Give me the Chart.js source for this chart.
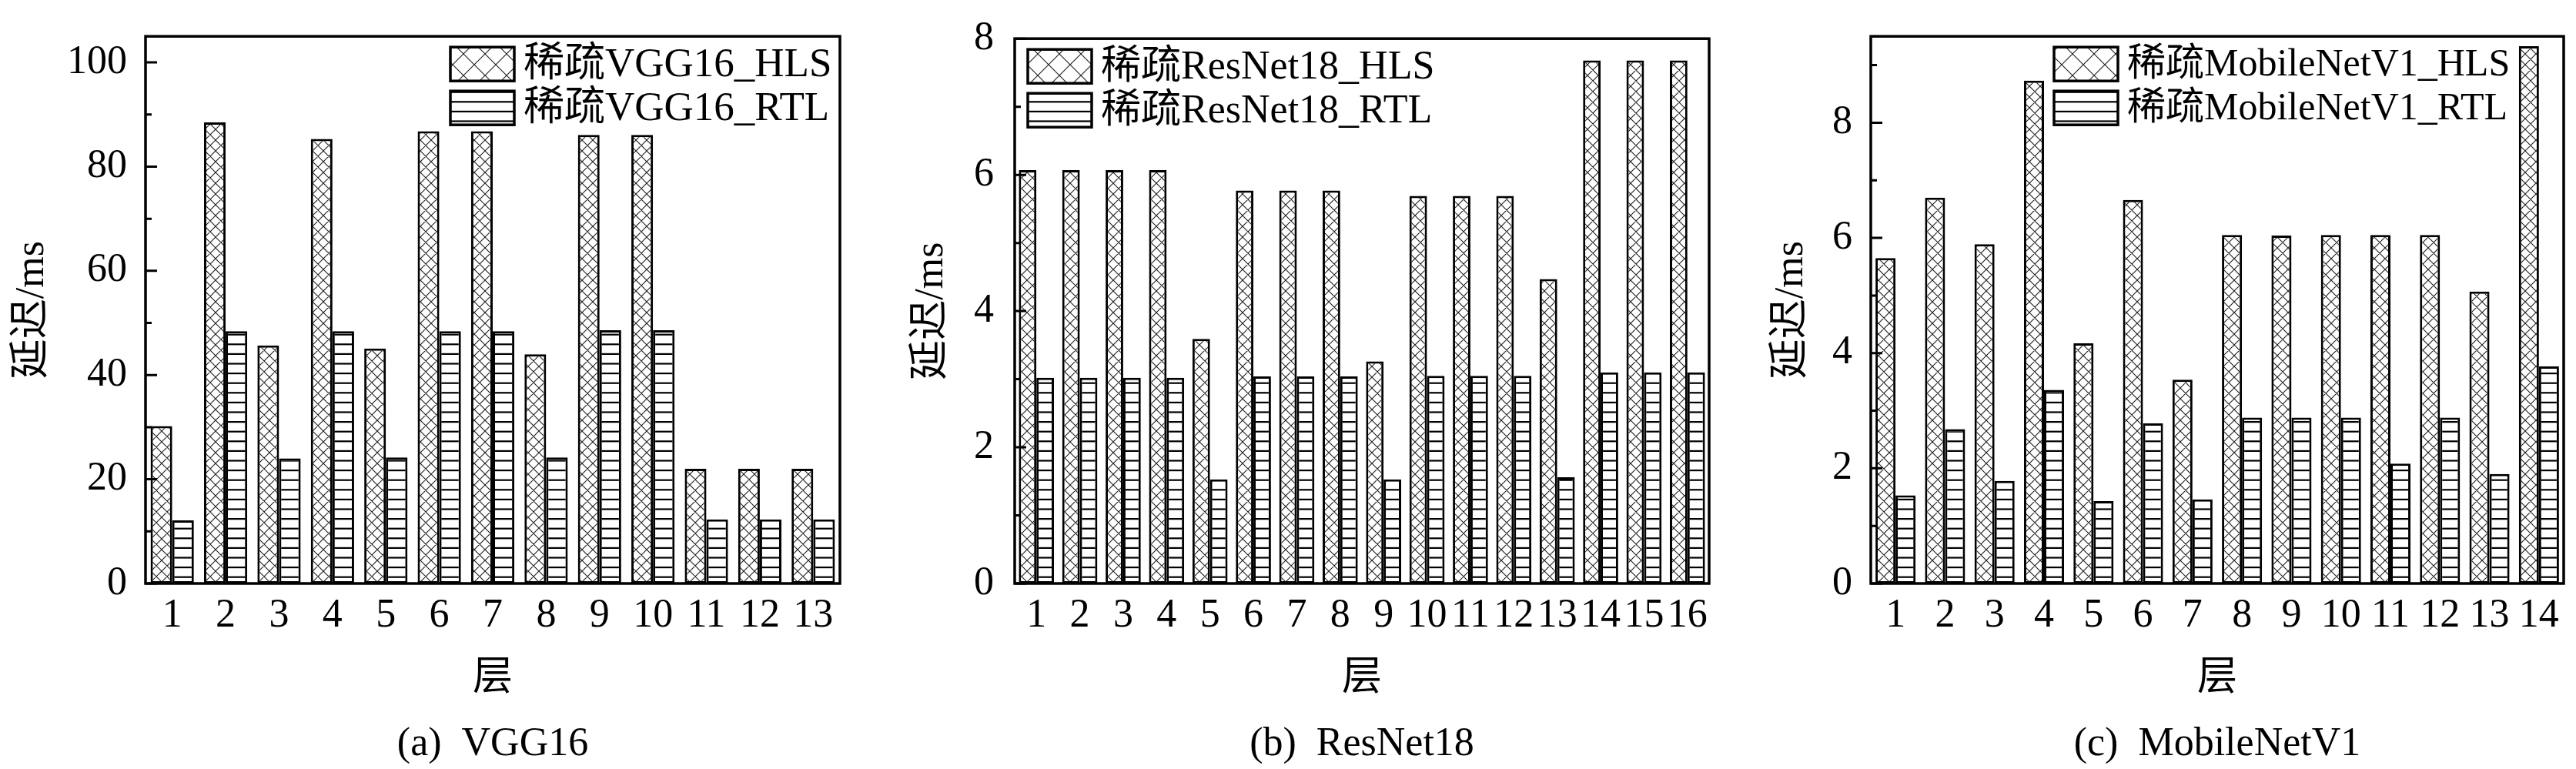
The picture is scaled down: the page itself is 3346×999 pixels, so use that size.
<!DOCTYPE html>
<html lang="zh">
<head>
<meta charset="utf-8">
<title>稀疏网络各层延迟：HLS 与 RTL</title>
<script src="https://cdn.jsdelivr.net/npm/chart.js@4.4.1/dist/chart.umd.min.js"></script>
<style>
  html, body { margin: 0; padding: 0; background: #fff; }
  body { width: 3346px; height: 999px; position: relative; overflow: hidden; }
  canvas { position: absolute; top: 0; }
  #chart-vgg { left: 0; }
  #chart-resnet { left: 1110px; }
  #chart-mobilenet { left: 2230px; }
</style>
</head>
<body>
<canvas id="chart-vgg" width="1110" height="999"></canvas>
<canvas id="chart-resnet" width="1120" height="999"></canvas>
<canvas id="chart-mobilenet" width="1116" height="999"></canvas>
<script>
// Latency per layer (ms).
const vggLayers = ["1", "2", "3", "4", "5", "6", "7", "8", "9", "10", "11", "12", "13"];
const vggHls = [30.2, 88.5, 45.7, 85.3, 45.1, 86.8, 86.8, 44.0, 86.1, 86.1, 22.0, 22.0, 22.0];
const vggRtl = [12.1, 48.4, 24.0, 48.4, 24.2, 48.4, 48.4, 24.2, 48.6, 48.6, 12.3, 12.3, 12.3];

const resnetLayers = ["1", "2", "3", "4", "5", "6", "7", "8", "9", "10", "11", "12", "13", "14", "15", "16"];
const resnetHls = [6.07, 6.07, 6.07, 6.07, 3.59, 5.77, 5.77, 5.77, 3.26, 5.69, 5.69, 5.69, 4.47, 7.68, 7.68, 7.68];
const resnetRtl = [3.02, 3.02, 3.02, 3.02, 1.53, 3.04, 3.04, 3.04, 1.53, 3.05, 3.05, 3.05, 1.56, 3.10, 3.10, 3.10];

const mobileLayers = ["1", "2", "3", "4", "5", "6", "7", "8", "9", "10", "11", "12", "13", "14"];
const mobileHls = [5.65, 6.70, 5.89, 8.73, 4.17, 6.66, 3.54, 6.05, 6.04, 6.05, 6.05, 6.05, 5.07, 9.33];
const mobileRtl = [1.53, 2.68, 1.78, 3.36, 1.43, 2.78, 1.46, 2.88, 2.88, 2.88, 2.08, 2.88, 1.90, 3.77];

const vggNames = ["稀疏VGG16_HLS", "稀疏VGG16_RTL"];
const resnetNames = ["稀疏ResNet18_HLS", "稀疏ResNet18_RTL"];
const mobileNames = ["稀疏MobileNetV1_HLS", "稀疏MobileNetV1_RTL"];

(function () {
  const FAMILY = '"Liberation Serif", "Noto Sans CJK SC", serif';
  const SIZE = 52;

  Chart.defaults.font.family = FAMILY;
  Chart.defaults.font.size = SIZE;
  Chart.defaults.color = "#000";
  Chart.defaults.animation = false;

  // Hatch fills (same look as the origin-style bar patterns).
  function crossHatch(size) {
    const c = document.createElement("canvas");
    c.width = c.height = size;
    const g = c.getContext("2d");
    g.fillStyle = "#fff";
    g.fillRect(0, 0, size, size);
    g.strokeStyle = "#1e1e1e";
    g.lineWidth = 1.1;
    g.beginPath();
    for (const dx of [-size, 0, size]) {
      g.moveTo(dx, 0); g.lineTo(dx + size, size);
      g.moveTo(dx + size, 0); g.lineTo(dx, size);
    }
    g.stroke();
    return g.createPattern(c, "repeat");
  }

  function hLines(gap, count, width) {
    const c = document.createElement("canvas");
    c.width = 4;
    c.height = Math.round(gap * count);
    const g = c.getContext("2d");
    g.fillStyle = "#fff";
    g.fillRect(0, 0, c.width, c.height);
    g.fillStyle = "#000";
    for (let i = 0; i < count; i++) {
      g.fillRect(0, i * gap + gap / 2 - width / 2, c.width, width);
    }
    return g.createPattern(c, "repeat");
  }

  const crossFill = crossHatch(14);
  const crossLegend = crossHatch(28);
  const lineFill = hLines(12.6, 5, 2.2);

  // Box frame plus inward major/minor ticks on the left axis.
  const frameAndTicks = {
    id: "frameAndTicks",
    afterDatasetsDraw(chart) {
      const { ctx, chartArea: a, scales: { y } } = chart;
      const step = y.ticks[1].value - y.ticks[0].value;
      ctx.save();
      ctx.strokeStyle = "#000";
      ctx.lineWidth = 3;
      ctx.beginPath();
      y.ticks.forEach((t) => {
        const py = y.getPixelForValue(t.value);
        ctx.moveTo(a.left, py); ctx.lineTo(a.left + 15, py);
        const mid = t.value + step / 2;
        if (mid < y.max) {
          const pm = y.getPixelForValue(mid);
          ctx.moveTo(a.left, pm); ctx.lineTo(a.left + 8, pm);
        }
      });
      ctx.stroke();
      ctx.lineWidth = 3.5;
      ctx.strokeRect(a.left, a.top, a.right - a.left, a.bottom - a.top);
      ctx.restore();
    },
  };

  // Legend drawn inside the plot frame, like the original figure.
  const insideLegend = {
    id: "insideLegend",
    afterDraw(chart, args, opts) {
      const { ctx, chartArea: a } = chart;
      ctx.save();
      ctx.font = opts.fontSize + "px " + FAMILY;
      ctx.textBaseline = "middle";
      chart.data.datasets.forEach((ds, i) => {
        const x = a.left + opts.x;
        const y = a.top + opts.y + i * opts.rowGap;
        ctx.fillStyle = ds.legendFill;
        ctx.fillRect(x, y, opts.boxW, opts.boxH);
        ctx.lineWidth = 3.5;
        ctx.strokeStyle = "#000";
        ctx.strokeRect(x, y, opts.boxW, opts.boxH);
        ctx.fillStyle = "#000";
        ctx.fillText(ds.label, x + opts.boxW + 12, y + opts.boxH / 2 + 2);
      });
      ctx.restore();
    },
  };

  function makeChart(id, cfg) {
    const barStyle = { borderColor: "#000", borderWidth: 3, borderSkipped: false };
    return new Chart(document.getElementById(id), {
      type: "bar",
      data: {
        labels: cfg.labels,
        datasets: [
          { label: cfg.names[0], data: cfg.hls, backgroundColor: crossFill, legendFill: crossLegend, ...barStyle },
          { label: cfg.names[1], data: cfg.rtl, backgroundColor: lineFill, legendFill: lineFill, ...barStyle },
        ],
      },
      options: {
        responsive: false,
        animation: false,
        events: [],
        layout: { padding: { top: 34, left: 0, right: cfg.padRight, bottom: 0 } },
        datasets: { bar: { categoryPercentage: 0.81, barPercentage: 1 } },
        scales: {
          x: {
            grid: { display: false },
            border: { display: false },
            ticks: { padding: 3, autoSkip: false, maxRotation: 0, minRotation: 0 },
            title: { display: true, text: "层", padding: { top: 0, bottom: 23 } },
            afterFit: (s) => { s.height = 178.6; },
          },
          y: {
            min: 0,
            max: cfg.yMax,
            grid: { display: false },
            border: { display: false },
            ticks: { stepSize: cfg.yStep, includeBounds: false, padding: cfg.tickPad },
            title: { display: true, text: "延迟/ms", padding: { top: cfg.titlePad, bottom: 0 } },
            afterFit: (s) => { s.width = cfg.axisWidth; },
          },
        },
        plugins: {
          legend: { display: false },
          tooltip: { enabled: false },
          title: {
            display: true,
            position: "bottom",
            fullSize: false,
            text: cfg.caption,
            padding: 0,
            font: { size: 52, weight: "normal" },
          },
          insideLegend: { x: cfg.legendX, y: 14, rowGap: 57, boxW: 83, boxH: 44, fontSize: cfg.legendFont },
        },
      },
      plugins: [frameAndTicks, insideLegend],
    });
  }

  makeChart("chart-vgg", {
    labels: vggLayers, hls: vggHls, rtl: vggRtl, names: vggNames,
    caption: "(a)  VGG16", yMax: 105, yStep: 20,
    axisWidth: 189, padRight: 19, tickPad: 16, titlePad: 11, legendX: 396, legendFont: 53,
  });

  makeChart("chart-resnet", {
    labels: resnetLayers, hls: resnetHls, rtl: resnetRtl, names: resnetNames,
    caption: "(b)  ResNet18", yMax: 8, yStep: 2,
    axisWidth: 208, padRight: 10, tickPad: 19, titlePad: 69, legendX: 17, legendFont: 52,
  });

  makeChart("chart-mobilenet", {
    labels: mobileLayers, hls: mobileHls, rtl: mobileRtl, names: mobileNames,
    caption: "(c)  MobileNetV1", yMax: 9.5, yStep: 2,
    axisWidth: 200, padRight: 16, tickPad: 16, titlePad: 66, legendX: 238, legendFont: 50,
  });
})();
</script>
</body>
</html>
